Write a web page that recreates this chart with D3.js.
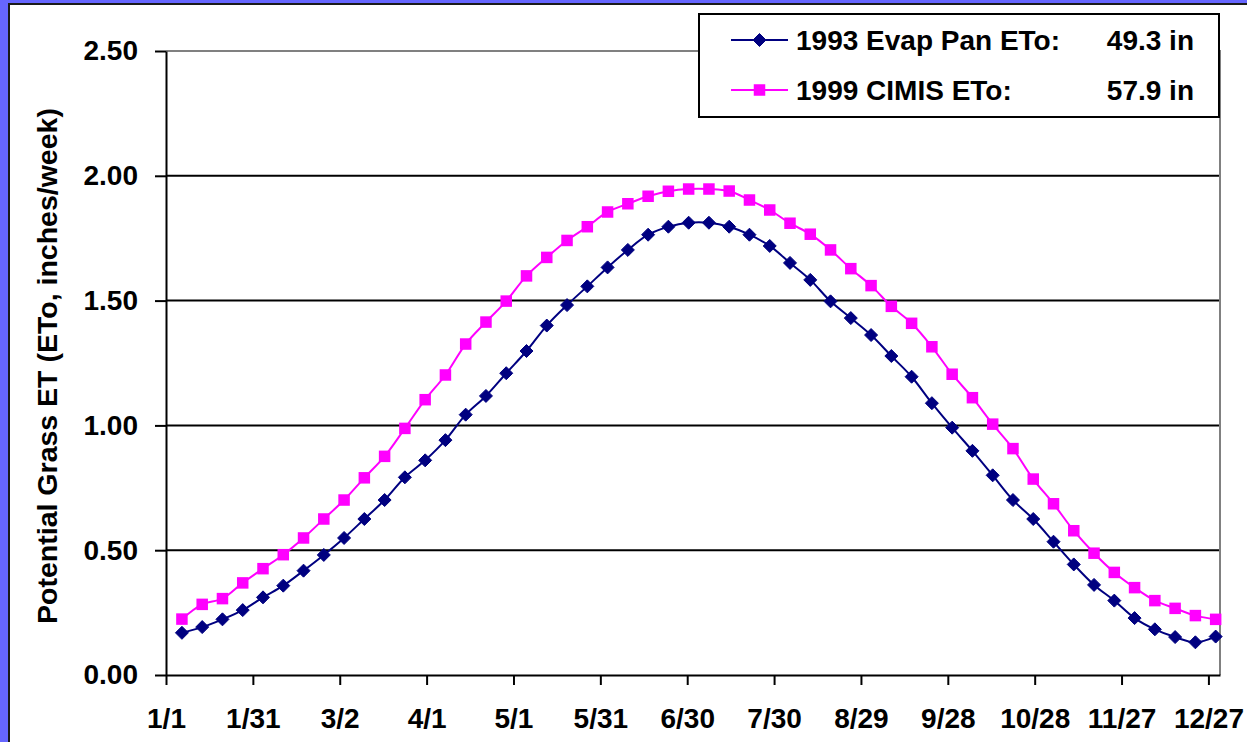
<!DOCTYPE html>
<html>
<head>
<meta charset="utf-8">
<script src="https://cdn.jsdelivr.net/npm/d3@7"></script>
<style>
  html, body { margin: 0; padding: 0; background: #ffffff; }
  svg { display: block; }
  text { font-family: "Liberation Sans", Arial, sans-serif; font-weight: bold; fill: #000; }
</style>
</head>
<body>
<svg id="chart" width="1247" height="742"></svg>
<script>
// Weekly sample dates (month/day)
const weekDates = [
  "1/6","1/13","1/20","1/27",
  "2/3","2/10","2/17","2/24",
  "3/3","3/10","3/17","3/24","3/31",
  "4/7","4/14","4/21","4/28",
  "5/5","5/12","5/19","5/26",
  "6/2","6/9","6/16","6/23","6/30",
  "7/7","7/14","7/21","7/28",
  "8/4","8/11","8/18","8/25",
  "9/1","9/8","9/15","9/22","9/29",
  "10/6","10/13","10/20","10/27",
  "11/3","11/10","11/17","11/24",
  "12/1","12/8","12/15","12/22","12/29"
];

// Potential grass ET, inches/week
const evapPan1993 = [
  0.169, 0.192, 0.223, 0.260, 0.311, 0.358, 0.418, 0.481, 0.549, 0.625,
  0.701, 0.792, 0.860, 0.941, 1.043, 1.118, 1.209, 1.298, 1.400, 1.482,
  1.557, 1.633, 1.703, 1.764, 1.796, 1.812, 1.812, 1.796, 1.764, 1.719,
  1.651, 1.583, 1.497, 1.430, 1.362, 1.278, 1.195, 1.089, 0.991, 0.898,
  0.800, 0.701, 0.625, 0.534, 0.443, 0.361, 0.298, 0.228, 0.183, 0.152,
  0.131, 0.154
];
const cimis1999 = [
  0.224, 0.283, 0.306, 0.369, 0.426, 0.482, 0.549, 0.625, 0.701, 0.790,
  0.876, 0.988, 1.103, 1.202, 1.326, 1.414, 1.498, 1.599, 1.673, 1.741,
  1.796, 1.855, 1.888, 1.918, 1.938, 1.947, 1.947, 1.939, 1.903, 1.863,
  1.810, 1.766, 1.703, 1.628, 1.560, 1.477, 1.409, 1.315, 1.205, 1.111,
  1.005, 0.907, 0.785, 0.686, 0.578, 0.488, 0.411, 0.350, 0.298, 0.267,
  0.238, 0.223
];

const xTickLabels = ["1/1","1/31","3/2","4/1","5/1","5/31","6/30","7/30","8/29","9/28","10/28","11/27","12/27"];
const yTickValues = [0, 0.5, 1.0, 1.5, 2.0, 2.5];

const seriesNames = ["1993 Evap Pan ETo:", "1999 CIMIS ETo:"];
const seriesTotals = ["49.3 in", "57.9 in"];

const svg = d3.select("#chart");
const W = 1247, H = 742;
const plot = { left: 166, right: 1220, top: 51, bottom: 675 };
const FONT = 28;

const parseDay = d3.timeParse("%m/%d/%Y");
const toDate = md => parseDay(md + "/1993");

// Frame: blue band with a dark edge on the top and left
svg.append("rect").attr("x", 0).attr("y", 0).attr("width", W).attr("height", H).attr("fill", "#6666ff");
svg.append("rect").attr("x", 9).attr("y", 4).attr("width", W).attr("height", H).attr("fill", "#ffffff")
  .attr("stroke", "#1a1a1a").attr("stroke-width", 2);

const x = d3.scaleTime()
  .domain([toDate("1/1"), toDate("12/31")])
  .range([plot.left, plot.right]);
const y = d3.scaleLinear().domain([0, 2.5]).range([plot.bottom, plot.top]);

// Each weekly value sits at the middle of its day
const pointX = md => x(d3.timeHour.offset(toDate(md), 12));

// Horizontal gridlines
svg.append("g").selectAll("line")
  .data(yTickValues.filter(v => v > 0 && v < 2.5))
  .join("line")
  .attr("x1", plot.left).attr("x2", plot.right)
  .attr("y1", d => y(d)).attr("y2", d => y(d))
  .attr("stroke", "#000").attr("stroke-width", 2);

// Plot area border (top and right)
svg.append("path")
  .attr("d", `M${plot.left},${y(2.5)}H${plot.right}V${plot.bottom}`)
  .attr("fill", "none").attr("stroke", "#808080").attr("stroke-width", 2);

// Y axis
const yAxis = svg.append("g")
  .attr("transform", `translate(${plot.left},0)`)
  .call(d3.axisLeft(y).tickValues(yTickValues).tickFormat(d3.format(".2f"))
    .tickSize(11).tickSizeOuter(0).tickPadding(17));
yAxis.selectAll("path, line").attr("stroke", "#000").attr("stroke-width", 2);
yAxis.selectAll("text").attr("font-size", FONT).attr("font-family", null).attr("fill", "#000");

// X axis
const xAxis = svg.append("g")
  .attr("transform", `translate(0,${plot.bottom})`)
  .call(d3.axisBottom(x).tickValues(xTickLabels.map(toDate))
    .tickFormat((d, i) => xTickLabels[i])
    .tickSize(10).tickSizeOuter(0).tickPadding(23));
xAxis.selectAll("path, line").attr("stroke", "#000").attr("stroke-width", 2);
xAxis.selectAll("text").attr("font-size", FONT).attr("font-family", null).attr("fill", "#000");

// Y axis title
svg.append("text")
  .attr("transform", `translate(57,366) rotate(-90)`)
  .attr("text-anchor", "middle")
  .attr("font-size", 28.5)
  .text("Potential Grass ET (ETo, inches/week)");

const line = d3.line().curve(d3.curveCatmullRom.alpha(0.5));

const series = [
  { values: evapPan1993, color: "#000080", shape: "diamond" },
  { values: cimis1999, color: "#ff00ff", shape: "square" }
];

function drawMarker(g, shape, color, cx, cy) {
  if (shape === "diamond") {
    const r = 6.5;
    g.append("path")
      .attr("d", `M${cx},${cy - r}L${cx + r},${cy}L${cx},${cy + r}L${cx - r},${cy}Z`)
      .attr("fill", color).attr("stroke", color).attr("stroke-width", 1);
  } else {
    const s = 11.5;
    g.append("rect")
      .attr("x", cx - s / 2).attr("y", cy - s / 2).attr("width", s).attr("height", s)
      .attr("fill", color);
  }
}

series.forEach(s => {
  const pts = weekDates.map((md, i) => [pointX(md), y(s.values[i])]);
  svg.append("path")
    .attr("d", line(pts))
    .attr("fill", "none").attr("stroke", s.color).attr("stroke-width", 2);
  const g = svg.append("g");
  pts.forEach(p => drawMarker(g, s.shape, s.color, p[0], p[1]));
});

// Legend
const legend = svg.append("g");
legend.append("rect")
  .attr("x", 699).attr("y", 14).attr("width", 520).attr("height", 103)
  .attr("fill", "#ffffff").attr("stroke", "#000").attr("stroke-width", 2);
const rowY = [40, 90];
series.forEach((s, i) => {
  const cy = rowY[i];
  legend.append("line")
    .attr("x1", 731).attr("x2", 788).attr("y1", cy).attr("y2", cy)
    .attr("stroke", s.color).attr("stroke-width", 2);
  drawMarker(legend, s.shape, s.color, 759.5, cy);
  legend.append("text")
    .attr("x", 796).attr("y", cy + 10)
    .attr("font-size", FONT)
    .text(seriesNames[i]);
  legend.append("text")
    .attr("x", 1194).attr("y", cy + 10)
    .attr("text-anchor", "end")
    .attr("font-size", FONT)
    .text(seriesTotals[i]);
});
</script>
</body>
</html>
